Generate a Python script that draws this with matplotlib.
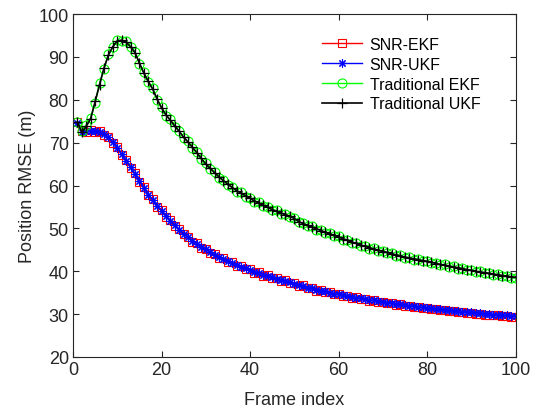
import matplotlib
matplotlib.use("Agg")
import matplotlib.pyplot as plt
import numpy as np

plt.rcParams['font.family'] = ['Liberation Sans', 'DejaVu Sans']

frames = list(range(1, 101))

snr_ekf = [74.8, 72.6, 72.5, 72.9, 72.5, 72.7, 71.8, 71.4, 69.9, 69.0,
           67.1, 66.0, 64.1, 62.9, 60.9, 59.7, 57.7, 56.8, 55.1, 54.3,
           52.7, 52.0, 50.5, 49.9, 48.6, 48.1, 46.9, 46.6, 45.5, 45.3,
           44.3, 44.1, 43.2, 43.1, 42.2, 42.1, 41.3, 41.3, 40.5, 40.5,
           39.7, 39.8, 39.0, 39.1, 38.4, 38.5, 37.8, 37.9, 37.2, 37.3,
           36.6, 36.7, 36.0, 36.2, 35.5, 35.7, 35.1, 35.2, 34.6, 34.7,
           34.2, 34.3, 33.8, 33.9, 33.5, 33.6, 33.1, 33.2, 32.8, 32.9,
           32.5, 32.6, 32.2, 32.3, 31.9, 32.0, 31.7, 31.7, 31.4, 31.4,
           31.2, 31.2, 30.9, 30.9, 30.7, 30.7, 30.5, 30.5, 30.3, 30.3,
           30.1, 30.1, 29.9, 29.9, 29.7, 29.7, 29.6, 29.5, 29.4, 29.4]

snr_ukf = [74.6, 72.4, 72.6, 72.7, 72.6, 72.5, 72.0, 71.2, 70.1, 68.8,
           67.3, 65.8, 64.3, 62.7, 61.1, 59.5, 57.9, 56.6, 55.3, 54.1,
           52.9, 51.8, 50.7, 49.7, 48.8, 47.9, 47.1, 46.4, 45.7, 45.1,
           44.5, 43.9, 43.4, 42.9, 42.4, 41.9, 41.5, 41.1, 40.7, 40.3,
           39.9, 39.6, 39.2, 38.9, 38.6, 38.3, 38.0, 37.7, 37.4, 37.1,
           36.8, 36.5, 36.2, 36.0, 35.7, 35.5, 35.3, 35.0, 34.8, 34.6,
           34.4, 34.2, 34.0, 33.8, 33.7, 33.5, 33.3, 33.2, 33.0, 32.9,
           32.7, 32.6, 32.4, 32.3, 32.1, 32.0, 31.9, 31.7, 31.6, 31.5,
           31.4, 31.3, 31.1, 31.0, 30.9, 30.8, 30.7, 30.6, 30.5, 30.4,
           30.3, 30.2, 30.1, 30.0, 29.9, 29.8, 29.8, 29.7, 29.6, 29.6]

trad_ekf = [74.9, 72.8, 74.2, 75.8, 79.3, 83.8, 87.1, 90.6, 92.2, 93.9,
            93.7, 93.6, 92.2, 91.2, 88.4, 86.4, 84.1, 82.7, 80.0, 78.3,
            76.3, 75.4, 73.7, 72.8, 71.1, 70.3, 68.7, 67.8, 66.1, 65.2,
            63.8, 63.2, 61.8, 61.3, 60.1, 59.7, 58.6, 58.4, 57.4, 57.2,
            56.2, 56.1, 55.2, 55.1, 54.2, 54.2, 53.4, 53.4, 52.6, 52.5,
            51.4, 51.3, 50.5, 50.5, 49.7, 49.7, 48.9, 48.9, 48.2, 48.2,
            47.4, 47.4, 46.6, 46.7, 45.9, 46.0, 45.3, 45.4, 44.7, 44.8,
            44.2, 44.3, 43.6, 43.8, 43.1, 43.3, 42.7, 42.9, 42.3, 42.5,
            41.9, 42.0, 41.4, 41.6, 41.0, 41.2, 40.6, 40.8, 40.2, 40.4,
            39.8, 40.0, 39.5, 39.6, 39.1, 39.3, 38.8, 39.0, 38.5, 38.4]

trad_ukf = [74.8, 72.4, 73.8, 75.6, 79.6, 83.5, 87.4, 90.4, 92.4, 93.7,
            93.9, 93.4, 92.4, 91.0, 88.6, 86.2, 84.3, 82.5, 80.2, 78.1,
            76.5, 75.2, 73.9, 72.6, 71.3, 70.1, 68.9, 67.6, 66.3, 65.0,
            64.0, 63.0, 62.0, 61.1, 60.3, 59.5, 58.8, 58.2, 57.6, 57.0,
            56.4, 55.9, 55.4, 54.9, 54.4, 54.0, 53.6, 53.2, 52.8, 52.3,
            51.6, 51.1, 50.7, 50.3, 49.9, 49.5, 49.1, 48.7, 48.4, 48.0,
            47.6, 47.2, 46.8, 46.5, 46.1, 45.8, 45.5, 45.2, 44.9, 44.6,
            44.4, 44.1, 43.8, 43.6, 43.3, 43.1, 42.9, 42.7, 42.5, 42.3,
            42.1, 41.8, 41.6, 41.4, 41.2, 41.0, 40.8, 40.6, 40.4, 40.2,
            40.0, 39.8, 39.7, 39.5, 39.3, 39.2, 39.0, 38.9, 38.7, 38.6]

labels = ['SNR-EKF', 'SNR-UKF', 'Traditional EKF', 'Traditional UKF']
xticks = [0, 20, 40, 60, 80, 100]
yticks = [20, 30, 40, 50, 60, 70, 80, 90, 100]

fig = plt.figure(figsize=(5.37, 4.10), dpi=100)
ax = fig.add_axes([73/537, 1-358/410, (515.5-73)/537, (358-15)/410])

ax.plot(frames, snr_ekf, color='#FF0000', lw=1.0, marker='s', ms=6,
        mfc='none', mew=0.8, label=labels[0])
ax.plot(frames, snr_ukf, color='#0000FF', lw=1.0, marker=(8, 2, 0), ms=6,
        mfc='none', mew=0.8, label=labels[1])
ax.plot(frames, trad_ekf, color='#00FF00', lw=1.0, marker='o', ms=6.5,
        mfc='none', mew=0.8, label=labels[2])
ax.plot(frames, trad_ukf, color='black', lw=1.2, marker='+', ms=7,
        mew=0.9, label=labels[3])

ax.set_xlim(0, 100)
ax.set_ylim(20, 100)
ax.set_xticks(xticks)
ax.set_yticks(yticks)
dark = '#262626'
for s in ax.spines.values():
    s.set_color(dark)
    s.set_linewidth(0.8)
ax.tick_params(direction='in', length=4, width=0.8, colors=dark,
               top=True, right=True, labelsize=13, pad=3)
ax.set_xlabel('Frame index', fontsize=13, color=dark, labelpad=9)
ax.set_ylabel('Position RMSE (m)', fontsize=13, color=dark, labelpad=2)

leg = ax.legend(loc='upper left', bbox_to_anchor=(0.562, 0.933), frameon=False,
                fontsize=11.5, handlelength=2.5, handletextpad=0.5,
                labelspacing=0.3, borderaxespad=0, borderpad=0)
for t in leg.get_texts():
    t.set_color('black')

fig.savefig('out.png', dpi=100)
